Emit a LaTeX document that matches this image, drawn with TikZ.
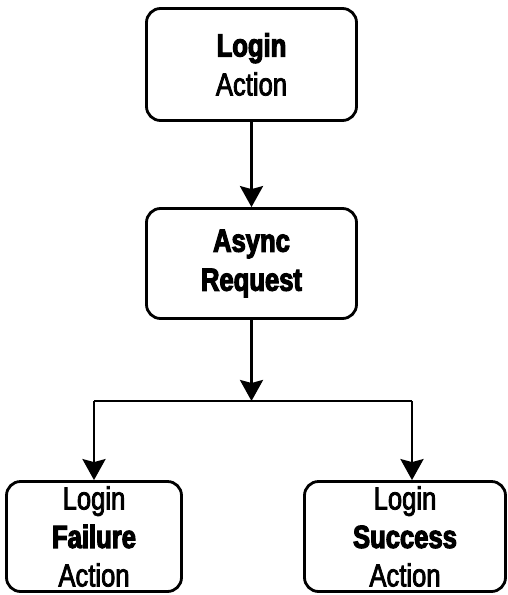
\documentclass[tikz,border=0pt]{standalone}
\usepackage{fontspec}
\setmainfont{Liberation Sans}[FakeStretch=0.8,
    UprightFeatures={FakeBold=2.5}, BoldFeatures={FakeBold=3.5}]
\usepackage{tikz}
\usetikzlibrary{arrows.meta, positioning}

\begin{document}
\begin{tikzpicture}[x=1pt, y=-1pt,
        actbox/.style={draw, line width=2.8pt, rounded corners=14pt, align=center,
            inner sep=0pt, font=\fontsize{32}{39}\selectfont},
        arr/.style={line width=2.7pt, -{Stealth[length=21pt, width=23pt, inset=3pt]}},
        link/.style={line width=2.7pt}]
        \useasboundingbox (0,0) rectangle (508,595); % page size of the reference

        % the four action boxes
        \node[actbox, minimum width=210pt, minimum height=112pt] (login) at (251.5,64.5) {\textbf{Login}\\Action};
        \node[actbox, minimum width=210pt, minimum height=110pt] (async) at (251.5,263.5) {\textbf{Async}\\\textbf{Request}};
        \node[actbox, minimum width=175pt, minimum height=110pt, font=\fontsize{32}{38.5}\selectfont] (fail) at (94,536.5) {Login\\\textbf{Failure}\\Action};
        \node[actbox, minimum width=201pt, minimum height=110pt, font=\fontsize{32}{38.5}\selectfont] (succ) at (405,536.5) {Login\\\textbf{Success}\\Action};

        % split point below the request
        \coordinate (split) at (251.5,401);
        \coordinate (jl) at (94,401);
        \coordinate (jr) at (412,401);

        \draw[arr] (login) -- (async); % action starts the request
        \draw[arr] (async) -- (split); % request returns
        \draw[link] (jl) -- (jr); % branch line
        \draw[arr] (jl) -- (fail); % failure branch
        \draw[arr] (jr) -- (jr |- succ.north); % success branch
    \end{tikzpicture}
\end{document}
